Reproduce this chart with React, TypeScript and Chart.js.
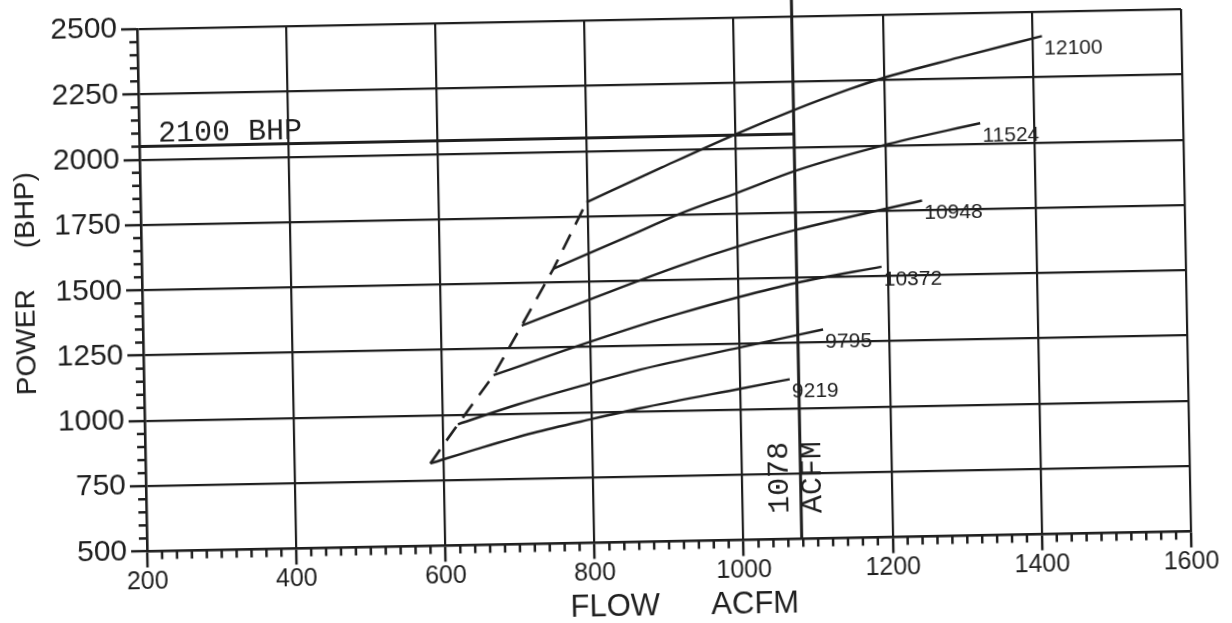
import React, { useEffect, useRef } from 'react';
import { Chart, registerables } from 'chart.js';

Chart.register(...registerables);

// ---- tick values ----
const xTicks = [200, 400, 600, 800, 1000, 1200, 1400, 1600];
const yTicks = [500, 750, 1000, 1250, 1500, 1750, 2000, 2250, 2500];
const xMinorStep = 20;
const yMinorStep = 50;

// ---- speed curves (flow ACFM, power BHP) ----
const curveNames = ['12100', '11524', '10948', '10372', '9795', '9219'];

const flow12100 = [798, 900, 1000, 1076, 1154, 1198, 1300, 1413];
const bhp12100 = [1804, 1932, 2054, 2139, 2218, 2257, 2330, 2407];

const flow11524 = [752, 850, 923, 1002, 1080, 1196, 1328];
const bhp11524 = [1552, 1667, 1753, 1831, 1910, 1999, 2078];

const flow10948 = [708, 796, 922, 1000, 1078, 1248];
const bhp10948 = [1337, 1428, 1555, 1624, 1683, 1786];

const flow10372 = [669, 750, 867, 921, 1000, 1077, 1192];
const bhp10372 = [1149, 1225, 1329, 1372, 1430, 1480, 1536];

const flow9795 = [620, 700, 800, 866, 1002, 1112];
const bhp9795 = [964, 1035, 1112, 1160, 1238, 1300];

const flow9219 = [582, 650, 720, 801, 865, 1001, 1066];
const bhp9219 = [816, 872, 925, 975, 1012, 1080, 1112];

// surge (dashed) line through curve starts
const surgeFlow = [582, 620, 669, 708, 752, 798];
const surgeBhp = [816, 964, 1149, 1337, 1552, 1804];

// reference lines
const limitFlow = [200, 1078];
const limitBhp = [2050, 2050];
const limitLabel = '2100 BHP';
const markFlow = 1078;
const markLabel = ['1078', 'ACFM'];

const INK = '#1f1f1f';

const pts = (xs: number[], ys: number[]) => xs.map((v, i) => ({ x: v, y: ys[i] }));

const curveSets = [
  [flow12100, bhp12100],
  [flow11524, bhp11524],
  [flow10948, bhp10948],
  [flow10372, bhp10372],
  [flow9795, bhp9795],
  [flow9219, bhp9219],
];

const decor = {
  id: 'decor',
  afterDatasetsDraw(chart: any) {
    const { ctx, chartArea: a, scales } = chart;
    const x = scales.x;
    const y = scales.y;
    ctx.save();
    ctx.strokeStyle = INK;
    ctx.fillStyle = INK;

    // minor ticks
    ctx.lineWidth = 2.5;
    for (let v = yTicks[0]; v <= yTicks[yTicks.length - 1]; v += yMinorStep) {
      if (yTicks.includes(v)) continue;
      const py = y.getPixelForValue(v);
      ctx.beginPath();
      ctx.moveTo(a.left - 8, py);
      ctx.lineTo(a.left, py);
      ctx.stroke();
    }
    for (let v = xTicks[0]; v <= xTicks[xTicks.length - 1]; v += xMinorStep) {
      if (xTicks.includes(v)) continue;
      const px = x.getPixelForValue(v);
      ctx.beginPath();
      ctx.moveTo(px, a.bottom);
      ctx.lineTo(px, a.bottom + 8);
      ctx.stroke();
    }

    // 1078 ACFM vertical line
    const mx = x.getPixelForValue(markFlow);
    ctx.lineWidth = 3;
    ctx.beginPath();
    ctx.moveTo(mx, 0);
    ctx.lineTo(mx, a.bottom);
    ctx.stroke();

    // rotated mark labels
    ctx.font = '30px "Liberation Mono"';
    ctx.textAlign = 'center';
    ctx.textBaseline = 'middle';
    const my = a.top + 461;
    ctx.save();
    ctx.translate(mx - 21, my);
    ctx.rotate(-Math.PI / 2);
    ctx.fillText(markLabel[0], 0, 0);
    ctx.restore();
    ctx.save();
    ctx.translate(mx + 12, my);
    ctx.rotate(-Math.PI / 2);
    ctx.fillText(markLabel[1], 0, 0);
    ctx.restore();

    // 2100 BHP label
    ctx.textAlign = 'left';
    ctx.textBaseline = 'alphabetic';
    ctx.font = '30px "Liberation Mono"';
    ctx.fillText(limitLabel, a.left + 19, y.getPixelForValue(limitBhp[0]) - 5);

    // curve labels
    ctx.font = '21px "Liberation Sans"';
    ctx.textBaseline = 'middle';
    curveSets.forEach(([fx, fy], i) => {
      const px = x.getPixelForValue(fx[fx.length - 1]);
      const py = y.getPixelForValue(fy[fy.length - 1]);
      ctx.fillText(curveNames[i], px + 2, py + 13);
    });

    // axis titles
    ctx.font = '28px "Liberation Sans"';
    ctx.textAlign = 'center';
    ctx.textBaseline = 'middle';
    ctx.save();
    ctx.translate(26, a.top + 311);
    ctx.rotate(-Math.PI / 2);
    ctx.fillText('POWER', 0, 0);
    ctx.restore();
    ctx.save();
    ctx.translate(27, a.top + 179);
    ctx.rotate(-Math.PI / 2);
    ctx.fillText('(BHP)', 0, 0);
    ctx.restore();

    ctx.font = '31px "Liberation Sans"';
    ctx.textBaseline = 'alphabetic';
    ctx.fillText('FLOW', 609, a.bottom + 73);
    ctx.fillText('ACFM', 749, a.bottom + 73);

    ctx.restore();
  },
};

export default function App() {
  const ref = useRef<HTMLCanvasElement | null>(null);

  useEffect(() => {
    if (!ref.current) return;
    const lineDs = (data: any[], extra: any = {}) => ({
      data,
      borderColor: INK,
      borderWidth: 2.4,
      pointRadius: 0,
      fill: false,
      cubicInterpolationMode: 'monotone',
      ...extra,
    });
    const datasets: any[] = curveSets.map(([fx, fy], i) =>
      lineDs(pts(fx, fy), { label: curveNames[i] })
    );
    datasets.push(lineDs(pts(surgeFlow, surgeBhp), { label: 'surge', borderDash: [17, 11], tension: 0, cubicInterpolationMode: 'default', borderWidth: 2.6 }));
    datasets.push(lineDs(pts(limitFlow, limitBhp), { label: limitLabel, borderWidth: 3, tension: 0, cubicInterpolationMode: 'default' }));

    const chart = new Chart(ref.current, {
      type: 'line',
      data: { datasets },
      options: {
        animation: false,
        responsive: false,
        events: [],
        layout: { padding: { top: 18, right: 46, left: 0, bottom: 0 } },
        plugins: { legend: { display: false }, tooltip: { enabled: false } },
        scales: {
          x: {
            type: 'linear',
            min: xTicks[0],
            max: xTicks[xTicks.length - 1],
            afterBuildTicks: (s: any) => {
              s.ticks = xTicks.map((v) => ({ value: v }));
            },
            afterFit: (s: any) => {
              s.height = 81.5;
            },
            ticks: {
              autoSkip: false,
              maxRotation: 0,
              padding: 2,
              color: INK,
              font: { family: 'Liberation Sans', size: 25, lineHeight: 1 },
              callback: (v: any) => String(v),
            },
            grid: { color: INK, lineWidth: 2.2, tickLength: 16, tickColor: INK, tickWidth: 2.5 },
            border: { color: INK, width: 2.5 },
          },
          y: {
            type: 'linear',
            min: yTicks[0],
            max: yTicks[yTicks.length - 1],
            afterBuildTicks: (s: any) => {
              s.ticks = yTicks.map((v) => ({ value: v }));
            },
            afterFit: (s: any) => {
              s.width = 142;
            },
            ticks: {
              autoSkip: false,
              padding: 4,
              color: INK,
              font: { family: 'Liberation Sans', size: 30, lineHeight: 1 },
              callback: (v: any) => String(v),
            },
            grid: { color: INK, lineWidth: 2.2, tickLength: 16, tickColor: INK, tickWidth: 2.5 },
            border: { color: INK, width: 2.5 },
          },
        },
      },
      plugins: [decor],
    } as any);
    return () => chart.destroy();
  }, []);

  return (
    <div
      style={{
        position: 'fixed',
        left: 0,
        top: 0,
        width: 1232,
        height: 623,
        background: '#fff',
        overflow: 'hidden',
      }}
    >
      <canvas
        ref={ref}
        width={1232}
        height={623}
        style={{
          display: 'block',
          width: 1232,
          height: 623,
          transform: 'rotate(-1.1deg)',
          transformOrigin: '664px 279.5px',
        }}
      />
    </div>
  );
}
